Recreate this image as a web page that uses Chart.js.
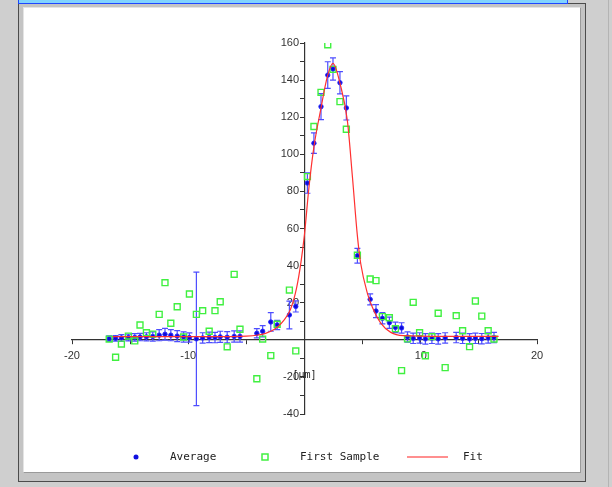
<!DOCTYPE html>
<html lang="en">
<head>
    <meta charset="UTF-8">
    <title>Average / First Sample / Fit</title>
    <script src="https://cdn.jsdelivr.net/npm/chart.js@4.4.0/dist/chart.umd.min.js"></script>
    <style>
        body {
            margin: 0;
            width: 612px;
            height: 487px;
            overflow: hidden;
            background: #cfcfcf;
            position: relative;
        }
        .frame {
            position: absolute;
            left: 18px;
            top: 3px;
            width: 566px;
            height: 477px;
            border: 1px solid #4c4c4c;
            background: #c4c4c4;
        }
        .panel {
            position: absolute;
            left: 23px;
            top: 7px;
            width: 556px;
            height: 464px;
            background: #fff;
            border-top: 1px solid #e4e4e4;
            border-left: 1px solid #e4e4e4;
            border-right: 1px solid #9a9a9a;
            border-bottom: 1px solid #9a9a9a;
        }
        .bar {
            position: absolute;
            left: 18px;
            top: -2px;
            width: 548px;
            height: 5px;
            background: #80d4ff;
            border: 1.5px solid #1e46ff;
            border-top: none;
        }
        .edge {
            position: absolute;
            left: 608px;
            top: 0;
            width: 1px;
            height: 487px;
            background: #b4b4b4;
        }
        canvas {
            position: absolute;
            left: 0;
            top: 0;
        }
    </style>
</head>
<body>
    <div class="frame"></div>
    <div class="panel"></div>
    <div class="bar"></div>
    <div class="edge"></div>
    <canvas id="chart" width="612" height="487"></canvas>

    <script>
        // position [µm] of every sample
        const xValues = [-16.8, -16.25, -15.75, -15.15, -14.6, -14.15, -13.6, -13.05, -12.5, -12.0,
            -11.5, -10.95, -10.4, -9.9, -9.3, -8.76, -8.2, -7.7, -7.25, -6.65,
            -6.05, -5.55, -4.1, -3.6, -2.9, -2.35, -1.3, -0.75, 0.25, 0.81,
            1.42, 2.0, 2.45, 3.05, 3.6, 4.55, 5.65, 6.15, 6.7, 7.3,
            7.82, 8.35, 8.86, 9.35, 9.9, 10.4, 10.96, 11.5, 12.1, 13.05,
            13.6, 14.2, 14.7, 15.25, 15.8, 16.3];

        const averageValues = [0.6, 0.8, 1.0, 1.2, 1.3, 1.5, 1.6, 1.8, 2.5, 3.0,
            2.5, 2.0, 1.5, 1.2, 0.5, 1.0, 1.3, 1.2, 1.6, 1.4,
            1.8, 1.8, 3.5, 4.6, 9.6, 8.0, 13.4, 18.0, 84.5, 106,
            125.7, 142.7, 146, 138.6, 125, 45.3, 21.8, 15.5, 11.6, 9.2,
            6.7, 6.4, 1.5, 0.8, 1.0, 0.5, 0.8, 0.5, 1.0, 1.2,
            0.8, 0.5, 0.8, 0.6, 1.0, 1.2];

        const averageErrors = [1.5, 1.5, 1.8, 1.8, 2.0, 2.0, 2.2, 2.5, 3.0, 3.2,
            3.0, 3.0, 2.8, 2.5, 36, 2.8, 2.8, 2.8, 3.0, 3.0,
            3.0, 3.0, 2.5, 3.0, 5.0, 2.5, 7.5, 3.0, 5.5, 5.5,
            7.0, 7.2, 6.0, 6.0, 6.5, 4.0, 3.0, 3.5, 3.0, 3.0,
            2.8, 2.8, 2.8, 2.8, 2.8, 2.8, 2.8, 2.8, 2.8, 2.8,
            2.8, 2.8, 2.8, 2.8, 2.8, 2.8];

        const firstSampleValues = [0.4, -9.4, -2.3, 2.0, -0.6, 8.0, 3.8, 3.1, 13.7, 30.8,
            8.9, 17.8, 1.5, 24.7, 13.7, 15.7, 4.6, 15.7, 20.5, -3.8,
            35.3, 5.7, -21, 0.4, -8.5, 8.4, 26.8, -6.0, 88, 115,
            133.4, 159, 145.8, 128.4, 113.5, 45.6, 32.8, 31.9, 12.5, 11.9,
            6.0, -16.6, 0.5, 20.2, 3.8, -8.6, 1.7, 14.3, -15, 13,
            4.9, -3.7, 20.9, 12.8, 4.9, 0.4];

        // fitted curve
        const fitX = [-16.5, -8, -5, -4, -3.35, -2.9, -2.35, -1.78, -1.2, -0.68,
            -0.3, 0, 0.38, 0.81, 1.39, 1.97, 2.45, 3.1, 3.69, 4.12,
            4.55, 4.84, 5.41, 5.84, 6.56, 7.42, 8.5, 12, 16.7];
        const fitY = [1.7, 1.7, 2.0, 2.6, 3.5, 4.6, 6.8, 10.5, 16.5, 28,
            42, 57, 82, 104, 124, 142, 149, 137, 118, 88,
            56, 41, 25, 17.5, 9, 4, 2.2, 1.8, 1.8];

        const xTicks = [-20, -10, 10, 20];
        const yTicks = [-40, -20, 20, 40, 60, 80, 100, 120, 140, 160];
        const unitLabel = '[µm]';

        const tickFont = { family: "'Liberation Sans', Arial, sans-serif", size: 11 };
        const monoFont = "'DejaVu Sans Mono', monospace";

        // error bars of the average, drawn under the points
        const errorBars = {
            id: 'errorBars',
            beforeDatasetsDraw(chart) {
                const { ctx, scales: { x, y } } = chart;
                ctx.save();
                ctx.strokeStyle = '#4d4dff';
                ctx.lineWidth = 1.2;
                xValues.forEach((v, i) => {
                    const m = averageValues[i];
                    const e = averageErrors[i];
                    const px = x.getPixelForValue(v);
                    const top = y.getPixelForValue(m + e);
                    const bot = y.getPixelForValue(m - e);
                    ctx.beginPath();
                    ctx.moveTo(px, top); ctx.lineTo(px, bot);
                    ctx.moveTo(px - 3, top); ctx.lineTo(px + 3, top);
                    ctx.moveTo(px - 3, bot); ctx.lineTo(px + 3, bot);
                    ctx.stroke();
                });
                ctx.restore();
            }
        };

        // unit label near the origin and the legend row
        const extras = {
            id: 'extras',
            afterDraw(chart) {
                const { ctx, scales: { x, y } } = chart;
                ctx.save();
                ctx.fillStyle = '#222';
                ctx.font = '10px ' + monoFont;
                ctx.textAlign = 'center';
                ctx.textBaseline = 'middle';
                ctx.fillText(unitLabel, x.getPixelForValue(0), y.getPixelForValue(-19));

                const ly = 457;
                const ds = chart.data.datasets;
                ctx.font = '11px ' + monoFont;
                ctx.textAlign = 'left';

                ctx.fillStyle = '#1010e0';
                ctx.beginPath();
                ctx.arc(136, ly, 2.5, 0, Math.PI * 2);
                ctx.fill();
                ctx.fillStyle = '#222';
                ctx.fillText(ds[0].label, 170, ly);

                ctx.strokeStyle = '#40f040';
                ctx.lineWidth = 1.5;
                ctx.strokeRect(262, ly - 3, 6, 6);
                ctx.fillText(ds[1].label, 300, ly);

                ctx.strokeStyle = '#ff6a6a';
                ctx.lineWidth = 1.5;
                ctx.beginPath();
                ctx.moveTo(407, ly); ctx.lineTo(448, ly);
                ctx.stroke();
                ctx.fillText(ds[2].label, 463, ly);
                ctx.restore();
            }
        };

        new Chart(document.getElementById('chart'), {
            type: 'scatter',
            data: {
                datasets: [
                    {
                        label: 'Average',
                        data: xValues.map((v, i) => ({ x: v, y: averageValues[i] })),
                        pointStyle: 'circle',
                        pointRadius: 2.2,
                        backgroundColor: '#0c0cd8',
                        borderColor: '#2a2aff',
                        borderWidth: 1,
                        order: 2
                    },
                    {
                        label: 'First Sample',
                        data: xValues.map((v, i) => ({ x: v, y: firstSampleValues[i] })),
                        pointStyle: 'rect',
                        pointRadius: 4.2,
                        backgroundColor: 'rgba(0,0,0,0)',
                        borderColor: '#40f040',
                        borderWidth: 1.4,
                        order: 1
                    },
                    {
                        label: 'Fit',
                        type: 'line',
                        data: fitX.map((v, i) => ({ x: v, y: fitY[i] })),
                        borderColor: '#ff3030',
                        borderWidth: 1.2,
                        pointRadius: 0,
                        cubicInterpolationMode: 'monotone',
                        fill: false,
                        order: 0
                    }
                ]
            },
            options: {
                responsive: false,
                animation: false,
                devicePixelRatio: 1,
                layout: { padding: { left: 72, right: 75, top: 43, bottom: 73 } },
                plugins: {
                    legend: { display: false },
                    tooltip: { enabled: false }
                },
                scales: {
                    x: {
                        type: 'linear',
                        position: { y: 0 },
                        min: -20,
                        max: 20,
                        afterFit(scale) { scale.height = 0; },
                        border: { color: '#333', width: 1.2 },
                        grid: { drawOnChartArea: false, color: '#333', tickLength: 4 },
                        ticks: {
                            stepSize: 5,
                            autoSkip: false,
                            maxRotation: 0,
                            padding: 6,
                            color: '#333',
                            font: tickFont,
                            callback: v => xTicks.includes(v) ? v : ''
                        }
                    },
                    y: {
                        type: 'linear',
                        position: { x: 0 },
                        min: -40,
                        max: 160,
                        afterFit(scale) { scale.width = 0; },
                        border: { color: '#333', width: 1.2 },
                        grid: { drawOnChartArea: false, color: '#333', tickLength: 4 },
                        ticks: {
                            stepSize: 10,
                            autoSkip: false,
                            color: '#333',
                            font: tickFont,
                            // a centred axis puts its labels flush on the line, the en space keeps them off it
                            callback: v => yTicks.includes(v) ? v + '\u2002' : ''
                        }
                    }
                }
            },
            plugins: [errorBars, extras]
        });
    </script>
</body>
</html>
